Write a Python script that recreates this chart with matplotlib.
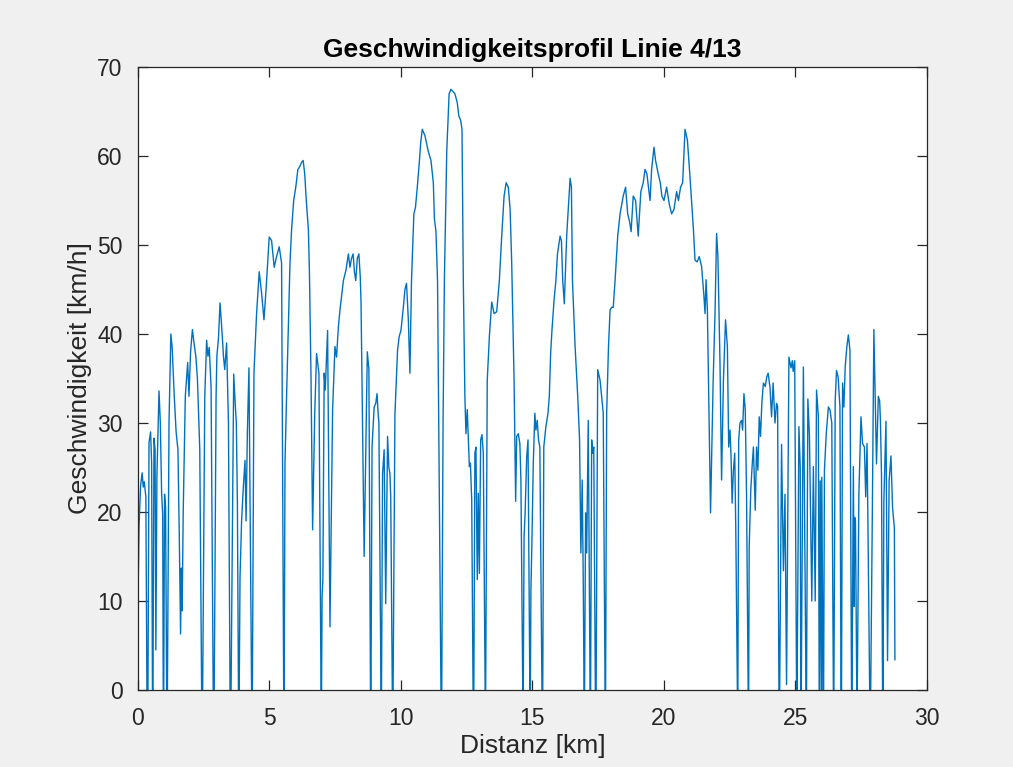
import matplotlib.pyplot as plt
import numpy as np

plt.rcParams['font.family'] = ['Liberation Sans', 'DejaVu Sans']

# Distanz [km] / Geschwindigkeit [km/h]
distanz_km = [
    0.0, 0.01, 0.04, 0.1, 0.16, 0.2, 0.24, 0.3, 0.34,
    0.38, 0.42, 0.48, 0.52, 0.55,
    0.57, 0.61, 0.65, 0.68, 0.72, 0.8, 0.85, 0.9, 0.94, 0.96,
    0.98, 1.01, 1.05, 1.09,
    1.12, 1.18, 1.25, 1.3, 1.38, 1.45, 1.52, 1.57, 1.62, 1.65, 1.68, 1.72, 1.8, 1.89, 1.94, 2.0, 2.07,
    2.13, 2.2, 2.26, 2.35, 2.42,
    2.46, 2.54, 2.61, 2.66, 2.71, 2.78, 2.86,
    2.9, 2.97, 3.0, 3.06, 3.12, 3.2, 3.25, 3.3, 3.37, 3.44, 3.5,
    3.54, 3.64, 3.7, 3.74, 3.78, 3.82,
    3.85, 3.88, 3.94, 4.0, 4.07, 4.11, 4.16, 4.22, 4.32,
    4.35, 4.41, 4.51, 4.61, 4.7, 4.79, 4.87, 4.99, 5.08, 5.18, 5.27, 5.37, 5.46, 5.54,
    5.56, 5.59, 5.65, 5.78, 5.84, 5.92, 6.0, 6.08, 6.15, 6.22, 6.28, 6.34, 6.4, 6.48, 6.52, 6.58,
    6.64, 6.72, 6.79, 6.88, 6.96,
    6.98, 7.0, 7.03, 7.08, 7.12, 7.21, 7.3, 7.4, 7.49, 7.55, 7.62, 7.68, 7.81, 7.91, 8.0, 8.06,
    8.12, 8.18, 8.23, 8.28, 8.34, 8.4, 8.45, 8.48, 8.6, 8.72, 8.78, 8.84,
    8.86, 8.9, 8.98, 9.04, 9.09, 9.13, 9.16, 9.24,
    9.26, 9.3, 9.36, 9.42, 9.49, 9.54, 9.58, 9.61, 9.67,
    9.7, 9.77, 9.87, 9.93, 10.0, 10.09, 10.15, 10.21, 10.28, 10.34, 10.4, 10.49, 10.55, 10.62,
    10.69, 10.75, 10.81, 10.91, 11.04, 11.14, 11.23, 11.27, 11.33, 11.39, 11.52,
    11.55, 11.6, 11.65, 11.74, 11.83, 11.9, 12.05, 12.14, 12.2, 12.27, 12.32, 12.37, 12.43,
    12.47, 12.52, 12.6, 12.64, 12.69, 12.74,
    12.77, 12.81, 12.85, 12.9, 12.94, 12.98, 13.03, 13.08, 13.13, 13.2,
    13.22, 13.28, 13.36, 13.45, 13.54, 13.64, 13.74, 13.83, 13.92, 14.0, 14.08, 14.15, 14.21,
    14.3, 14.36, 14.4, 14.46, 14.52, 14.56, 14.63,
    14.65, 14.68, 14.72, 14.78, 14.83, 14.9,
    14.92, 14.94, 14.98, 15.03, 15.09, 15.13, 15.18, 15.23, 15.28, 15.36,
    15.39, 15.43, 15.51, 15.59, 15.64, 15.69, 15.74, 15.82, 15.89, 15.95, 16.05, 16.1, 16.15,
    16.21, 16.3, 16.38, 16.43, 16.48, 16.52, 16.62, 16.72, 16.79, 16.84, 16.89, 16.93, 16.96,
    16.98, 17.02, 17.06, 17.12, 17.19,
    17.21, 17.25, 17.29, 17.33, 17.39,
    17.42, 17.48, 17.57, 17.62, 17.69, 17.76,
    17.78, 17.82, 17.89, 17.95, 18.01, 18.07, 18.14, 18.24, 18.33, 18.45, 18.54, 18.62, 18.7,
    18.75, 18.83, 18.92, 19.02, 19.12, 19.21, 19.28, 19.35, 19.47, 19.53, 19.62, 19.68, 19.78,
    19.86, 19.92, 20.0, 20.1, 20.2, 20.29, 20.38, 20.48, 20.55, 20.63, 20.71, 20.8, 20.89,
    20.99, 21.12, 21.18, 21.26, 21.34, 21.43, 21.52, 21.56, 21.6, 21.65, 21.77, 21.87, 21.94,
    22.0, 22.05, 22.13, 22.19, 22.26, 22.34, 22.41, 22.46, 22.51, 22.55, 22.59, 22.64, 22.69,
    22.73, 22.79,
    22.81, 22.84, 22.89, 22.95, 22.99, 23.04, 23.09, 23.14, 23.2,
    23.22, 23.24, 23.3, 23.35, 23.4, 23.47, 23.52, 23.57, 23.62, 23.67, 23.72, 23.78, 23.85,
    23.91, 23.96, 24.03, 24.09, 24.15, 24.22, 24.28, 24.32, 24.37,
    24.4, 24.47, 24.54, 24.6, 24.66, 24.75, 24.83, 24.88, 24.91, 24.97, 25.04,
    25.06, 25.13, 25.18, 25.2,
    25.22, 25.3, 25.4,
    25.42, 25.47, 25.53, 25.62, 25.68, 25.75, 25.8, 25.87, 25.9,
    25.92, 25.94, 25.99, 26.0, 26.05,
    26.07, 26.1, 26.17, 26.25, 26.31, 26.38, 26.44,
    26.46, 26.51, 26.56, 26.62, 26.69, 26.73,
    26.75, 26.79, 26.84, 26.89, 26.95, 27.01, 27.07, 27.13,
    27.15, 27.2, 27.23, 27.25, 27.28, 27.33,
    27.35, 27.41, 27.49, 27.55, 27.62, 27.67, 27.72, 27.75, 27.82,
    27.86, 27.92, 27.98, 28.03, 28.08, 28.15, 28.2, 28.23, 28.27, 28.31,
    28.33, 28.36, 28.44, 28.5, 28.56, 28.63, 28.69, 28.76, 28.78,
]

geschwindigkeit_kmh = [
    0, 12, 18.3, 23, 24.4, 22.8, 23.4, 21.7, 0,
    0, 27.8, 29, 25.5, 0,
    0, 28.3, 27, 4.5, 24, 33.6, 30, 22, 19.7, 0,
    0, 22, 20.5, 0,
    0, 30, 40, 38.5, 33, 29, 27, 17.5, 6.3, 13.7, 8.9, 20, 33, 36.8, 33, 38, 40.5,
    39, 37.5, 35, 27, 0,
    0, 33, 39.3, 37.5, 38.5, 34, 0,
    0, 33, 37.5, 39.5, 43.5, 40, 37.5, 36, 39, 30, 0,
    0, 35.5, 32, 30, 21, 0,
    0, 12.7, 19, 22.5, 25.8, 19, 29, 36.2, 0,
    0, 35.6, 42.3, 47, 44.6, 41.6, 45, 50.9, 50.5, 47.5, 48.7, 49.8, 48, 0,
    0, 25.5, 33, 48, 51.7, 55, 56.5, 58.5, 58.8, 59.3, 59.5, 58, 55, 51.7, 46.8, 35,
    18, 31, 37.8, 35.6, 0,
    0, 10.5, 12.4, 35.6, 33.7, 40.4, 7.1, 31.5, 38.6, 37.4, 40.8, 42.7, 46, 47.2, 49, 47.5,
    48.5, 49, 47, 46, 48.5, 49, 46.5, 43.8, 15, 38, 36, 0,
    0, 27.3, 31.8, 32.2, 33.3, 31.1, 30, 0,
    0, 24.3, 27, 9.7, 28.5, 25, 24.3, 21.7, 0,
    0, 31, 38.2, 39.7, 40.4, 43, 45, 45.7, 41.6, 35.6, 46, 53.5, 54.2, 56.5,
    59, 61.5, 63, 62.3, 60.5, 59.5, 57, 53, 51.5, 46, 0,
    0, 30, 46, 60.5, 67, 67.5, 67, 66, 64.5, 64, 63, 46, 33,
    28.8, 31.5, 25.1, 25.5, 21.3, 0,
    0, 26.6, 27.3, 12.4, 22.1, 13.1, 28.1, 28.7, 26.6, 0,
    0, 34.8, 39.7, 43.6, 42.3, 42.5, 46, 51, 55.5, 57, 56.5, 54, 48,
    34.8, 21.2, 28.5, 28.8, 27.7, 23.6, 0,
    0, 17.2, 19.9, 26.2, 28.1, 0,
    0, 11.2, 16.9, 25.5, 31.1, 29.2, 30.3, 28.1, 27.3, 0,
    0, 27.3, 29.6, 31.1, 33, 37.8, 40.4, 43.8, 46, 49, 51, 50.5, 46,
    43.4, 51, 55, 57.5, 56.5, 46, 38.6, 33, 28.1, 15.4, 23.6, 12.4, 0,
    0, 19.9, 15.4, 30.3, 0,
    0, 28.1, 26.6, 27.3, 0,
    0, 36, 34.8, 33.3, 31.1, 0,
    0, 31.1, 38.6, 42.7, 43, 43, 46, 51, 53.5, 55.5, 56.5, 53.5, 52.5,
    51.5, 55.5, 55, 51, 56, 57, 58.5, 58, 55, 58.5, 61, 59.5, 58,
    57, 55.5, 55, 56.5, 54.6, 53.5, 54, 56, 55, 56.5, 57, 63, 61.8,
    57.6, 51.7, 48.3, 48.1, 48.7, 47.6, 44.2, 42.3, 46.1, 42.7, 19.9, 34.8, 42.3,
    51.3, 48.7, 36.7, 23.6, 34.8, 41.6, 38.6, 27.3, 29.2, 26.2, 21, 24.7, 26.6,
    18, 0,
    0, 28.1, 30, 30.3, 29.2, 33.3, 31.5, 21.7, 0,
    0, 16.1, 22.5, 25.1, 27.3, 20.2, 27.3, 24.7, 30.7, 28.5, 32.2, 34.5, 34.1,
    35.2, 35.6, 34, 30.7, 34.5, 30, 32.2, 31.8, 0,
    0, 27.6, 13.4, 22, 0.6, 37.4, 36.2, 37, 35.8, 37, 0,
    0, 29.6, 25.1, 0,
    0, 36.3, 0,
    0, 32.7, 28.6, 10, 25.1, 10, 33.7, 30.7, 0,
    0, 23.5, 0, 23.9, 0,
    0, 24.7, 28.8, 31.8, 31.5, 30, 0,
    0, 32.5, 35.9, 35.2, 31.8, 0,
    0, 34.5, 31.8, 36.3, 38.5, 39.9, 38.2, 0,
    0, 25.1, 9.4, 19.4, 19, 0,
    0, 22, 30.7, 27.7, 27.3, 21.7, 27.7, 20, 0,
    0, 19.4, 40.5, 33, 25.4, 33, 32.5, 30.2, 24.2, 0,
    0, 21.2, 30.2, 3.3, 23.5, 26.3, 20.5, 18.2, 3.4,
]

x_ticks = [0, 5, 10, 15, 20, 25, 30]
y_ticks = [0, 10, 20, 30, 40, 50, 60, 70]

fig = plt.figure(figsize=(10.13, 7.67), dpi=100, facecolor='#f0f0f0')
ax = fig.add_axes([0.1362, 0.1004, 0.7789, 0.8122])
ax.set_facecolor('white')

ax.plot(distanz_km, geschwindigkeit_kmh, color='#0072BD', linewidth=1.0)

ax.set_xlim(0, 30)
ax.set_ylim(0, 70)
ax.set_xticks(x_ticks)
ax.set_yticks(y_ticks)

col = '#262626'
for s in ax.spines.values():
    s.set_color(col)
    s.set_linewidth(0.9)
ax.tick_params(direction='in', length=7, width=0.9, colors=col, labelsize=16.5,
               top=True, right=True)
ax.tick_params(axis='x', pad=12)
ax.tick_params(axis='y', pad=11)

ax.set_xlabel('Distanz [km]', fontsize=19, color=col, labelpad=3)
ax.set_ylabel('Geschwindigkeit [km/h]', fontsize=19, color=col, labelpad=4)
ax.set_title('Geschwindigkeitsprofil Linie 4/13', fontsize=19, fontweight='bold',
             color='black', pad=7)

fig.savefig('out.png', dpi=100, facecolor=fig.get_facecolor())
